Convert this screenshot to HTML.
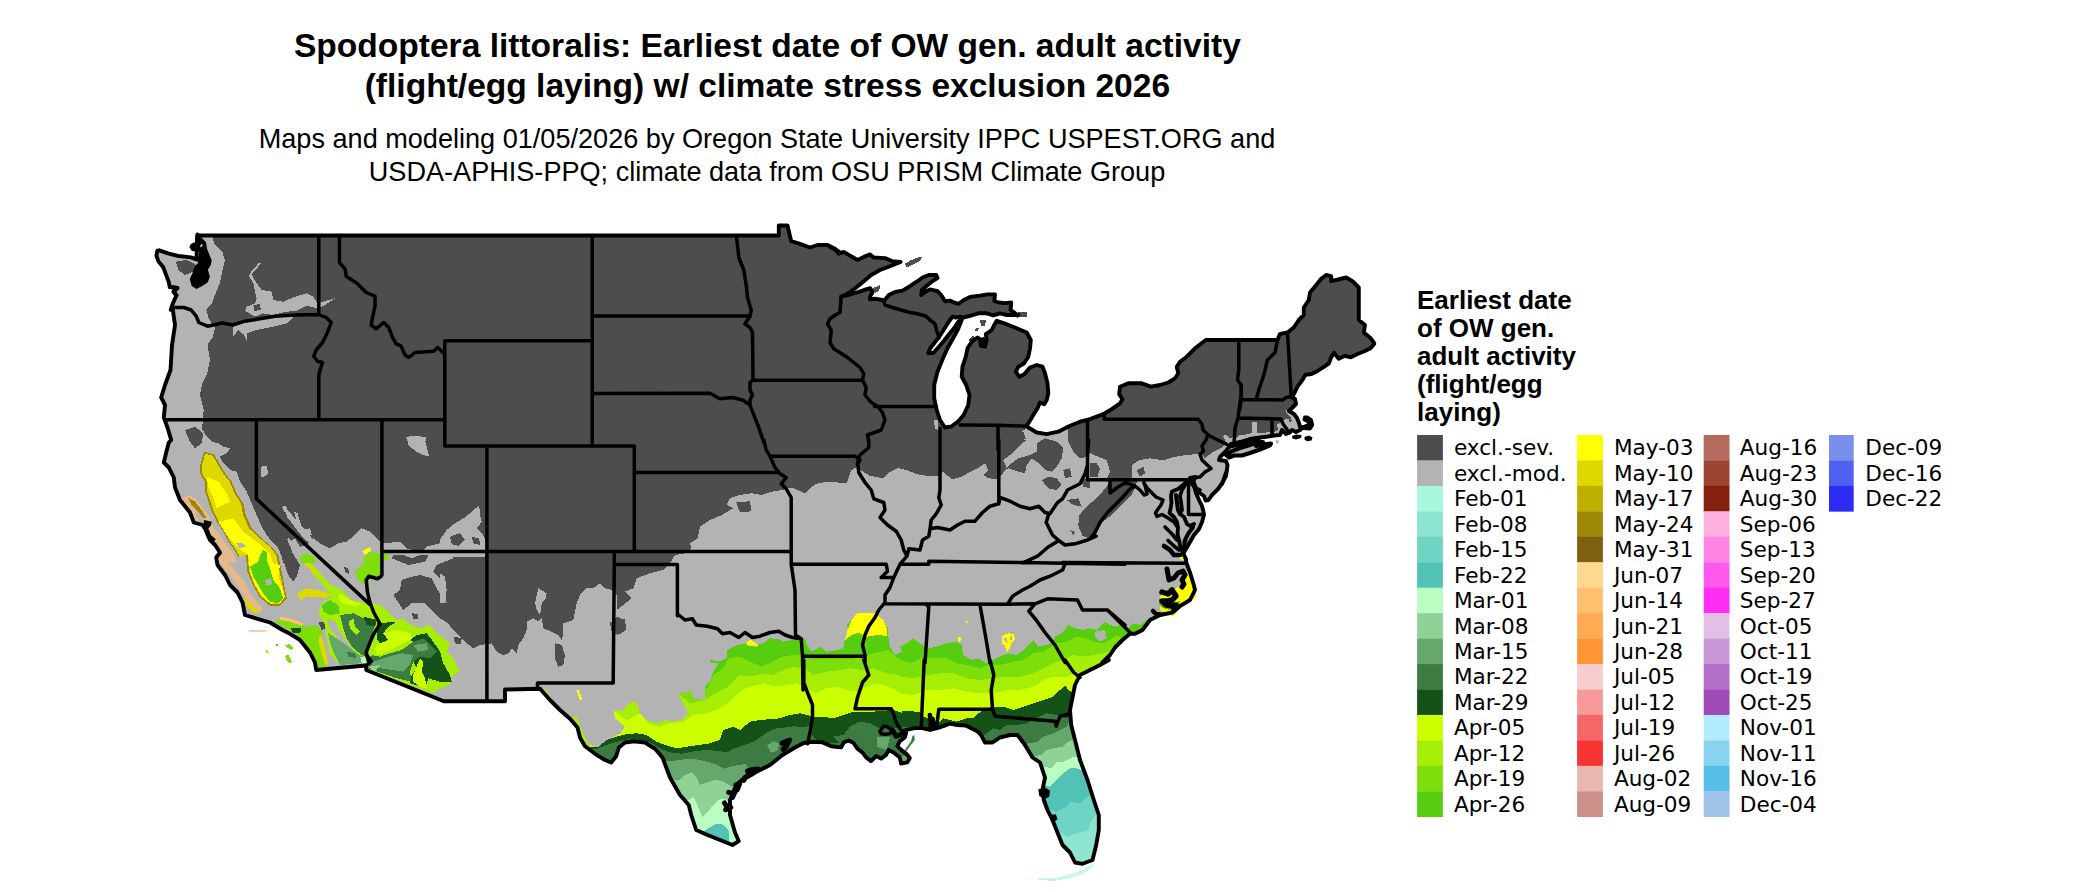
<!DOCTYPE html>
<html lang="en"><head><meta charset="utf-8"><title>Spodoptera littoralis: Earliest date of OW gen. adult activity</title>
<style>html,body{margin:0;padding:0;background:#fff}svg{display:block}</style></head>
<body>
<svg width="2100" height="892" viewBox="0 0 2100 892">
<rect width="2100" height="892" fill="#fff"/>
<defs><clipPath id="us"><path d="M198,235.5 778.8,235.5 778.8,225.5 787.5,225.5 791.2,241.2 800,243.8 810,247.5 817.5,245 827.5,245 835,248.8 840,252.5 830,246.9 835,248.8 838.8,253.8 843.8,251.9 850,255.6 857.5,260 863.8,256.9 870,254.4 873.8,257.5 885,258.1 892.5,261.2 900.6,261.9 890,266.2 880,270 871.2,275 863.8,281.2 856.2,287.5 847.5,293.8 841.2,296.5 848.8,294.8 858.8,291.9 867.5,288.8 870.2,288.1 872.5,292.5 870.2,296.2 869.8,299.4 875,298.8 882.5,300 883.8,301.2 888.8,295 895,291.9 902.5,290.6 910,286.2 917.5,281.2 922.5,277.5 928.8,275 936.2,275 937.5,278.1 932.5,281.2 926.2,286.2 921.9,290 921.2,295 926.2,291.2 930,289.4 937.5,291.2 941.2,295 945,301.2 950,300.6 953.8,302.5 958.8,303.8 963.8,300 970,296.9 980,295.6 987.5,294.4 995,294.4 994.4,301.2 998.8,302.5 1005,303.1 1011.2,302.5 1010.6,310 1015,313.1 1017.5,315.6 1018.3,314.7 1006.7,315 1000,313.3 993.3,315.3 986.7,313.3 978.3,313.3 970,315.8 963.3,317.5 960,316.7 955.8,317.5 952.5,316.7 950,320 946.7,325 942.5,331.7 938.7,337.5 934.7,342.5 930.3,348.3 928.3,353 933.3,353 938.7,347 943.8,341 949,334.3 954,328.3 958.7,321.3 961.7,320 958,329.2 952.5,339.2 947.5,348.3 943,358.3 937.5,371.7 934.2,385 934.2,398.3 936.7,410 940,420 945,427.5 951.7,426.3 958.3,421.3 963.7,415 968.3,405 969.5,395 966.2,385 961.7,376.7 962.5,366.7 965.8,356.7 967.5,348.3 971.7,341.7 977.5,337.5 980,339.2 980.8,345.8 985,346.7 986.7,340 985.8,334.2 991.7,330 994.2,325 996.7,320.8 1006.7,324.2 1016.7,328.3 1026.7,332.5 1030.8,340 1030,348.3 1028.3,356.7 1024.2,363.3 1018.3,366.7 1015.8,371.7 1019.2,376.7 1024.2,374.2 1030,367.5 1036.7,365 1042.5,366.7 1045,373.3 1047.5,383.3 1048.3,393.3 1046.7,400 1044.2,404.2 1040,402.5 1037.5,408.3 1033.3,415 1030,420.8 1026.7,425.8 1028.3,427.5 1036.7,432.5 1046.7,434.2 1058.3,431.7 1070,425.8 1080,421.7 1090,419.2 1103.3,414.2 1111.7,409.2 1120,403.3 1122.5,399.2 1119.2,394.2 1120,386.7 1128.3,383.3 1141.7,383.3 1150.8,386.7 1160,385 1168.3,382.5 1175,378.3 1178.3,373.3 1176.7,366.7 1180,361.7 1186.7,356.7 1195,348.3 1205.8,340 1277.5,340 1280,333.8 1287.5,332.5 1293.8,327.5 1298.8,320 1303.8,315 1303.8,307.5 1308.8,300 1310,292.5 1316.2,285 1321.2,278.8 1326.2,275 1331.2,276.2 1331.2,281.2 1336.2,280 1346.2,277.5 1352.5,281.2 1358.8,287.5 1358.8,320 1365,325 1363.8,332.5 1370,337.5 1373.8,342.5 1374.3,343.7 1370.5,348.2 1364.4,351.3 1356.9,354.3 1350.8,357.3 1344.8,355.8 1338.7,358.8 1334.2,352.8 1331.1,357.3 1328.9,363.4 1323.6,367.2 1317.5,370.9 1311.5,374 1305.4,374.7 1302.4,380 1297.8,386.1 1294.8,392.1 1292.5,396.7 1291,397 1295,399 1296,404 1292,408 1289,411 1294,414 1297,418 1299,423 1300,427 1304,428 1310,428.5 1312.2,425 1311,420 1307.5,417.5 1305,417.5 1304.5,419.5 1308.5,421.5 1309,425 1306,426 1302,428 1300,430 1296,432 1292,430 1289,433 1286,434 1282,430 1280,435 1274,435.5 1268,436.5 1260,437.5 1250,439 1240,442 1231,444 1230,446 1226,451 1220,457 1219,460 1226,461 1227.5,465 1226.5,473 1224,479 1222,484 1227,470 1226,476 1223,482 1218,489 1212,495 1208.5,500 1205.5,500.5 1204,496 1199,492.5 1195.5,487 1193.5,481 1195.5,477 1190,478 1192.5,480.5 1194,486 1196,493 1199,500 1202,506 1203.5,512 1204,514.5 1202,522 1199,529 1194,535 1190,542 1186,549 1184.5,551.5 1183.5,553.5 1186,559 1186.2,562.5 1190,572.5 1193.8,585 1195,590 1190,600 1180,606.2 1172.5,612.5 1160,615 1150,620 1142.5,630 1135,633.8 1130,633.8 1122.5,640 1115,647.5 1110,655 1102.5,662.5 1108.8,660 1100,665 1090,670 1080,675 1075,685 1072.5,697.5 1070,710 1071.2,725 1075,740 1080,760 1087.5,780 1093.8,800 1098.8,815 1098.8,830 1096.2,845 1092.5,860 1082.5,863.8 1075,862.5 1070,852.5 1062.5,845 1057.5,832.5 1052.5,820 1047.5,810 1043.8,800 1042.5,790 1045,777.5 1040,762.5 1032.5,757.5 1025,745 1017.5,735 1010,735 1000,737.5 992.5,742.5 985,742.5 980.9,734.9 977.2,731.2 972.2,728.7 965.9,725.6 957.2,725 949.7,723.7 944.7,725.6 937.2,728.1 929.8,729.9 922.3,728.1 914.8,728.1 908.5,729.3 902.3,731.2 906.1,733.1 904.8,737.4 899.8,741.2 897.3,746.2 901.1,749.9 906.1,753.6 909.8,758 907.3,762.4 901.1,763.6 899.8,757.4 893.6,752.4 888.6,749.9 886.1,754.9 881.1,758.6 876.1,756.1 871.1,761.1 866.1,757.4 862.4,752.4 857.4,748.7 853.6,743 848.7,740.5 843.7,742.4 841.2,747.4 831.2,746.2 822.5,742.4 812.5,741.8 803.7,743 795,747.5 782.5,755 770,765 755,772.5 745,777.5 736.2,785 730,800 730,815 735,832.5 738.8,841.2 732.5,845 720,840 707.5,835 696.2,830 691.2,815 688.8,805 680,795 670,777.5 662.5,757.5 655,748.8 645,742.5 633.8,741.2 625,742.5 618.8,747.5 616.2,756.2 611.2,762.5 605,760 595,753.8 585,746.2 580,737.5 577.5,727.5 570,718.8 560,710 550,700 540,688.8 505,689.5 505,701.2 486.2,701.2 443.8,701.2 366.2,670 366.2,665.5 316.2,670 315,662.5 310,652.5 300,640 290,633.8 282.5,630 270,622.5 257.5,618.8 245,615 242.5,602.5 237.5,592.5 230,585 225,575 217.5,565 216.2,557.5 220,552.5 215,545 210,540 207.5,532.5 202.5,525 193.8,522.5 190,512.5 180,500 175,487.5 173.8,477.5 168.8,467.5 163.8,462.5 166.2,452.5 168.8,442.5 171.2,440 167.5,427.5 163.8,417.5 165,405 161.2,397.5 165,385 170.5,370 172,345 175,325 172.5,307.5 170.7,309.8 172.6,304.1 174.6,299.4 176.5,295.5 173.6,291.7 177.4,287.9 169.8,287 168.8,282.2 166,274.6 163.1,266.9 158.3,261.2 156.4,255.5 157.4,250.7 159.3,250.3 168.8,253.6 178.4,256 190.8,257.4 196.5,259.3 197,237.4 197.4,234.5Z"/></clipPath></defs>
<path d="M198,235.5 778.8,235.5 778.8,225.5 787.5,225.5 791.2,241.2 800,243.8 810,247.5 817.5,245 827.5,245 835,248.8 840,252.5 830,246.9 835,248.8 838.8,253.8 843.8,251.9 850,255.6 857.5,260 863.8,256.9 870,254.4 873.8,257.5 885,258.1 892.5,261.2 900.6,261.9 890,266.2 880,270 871.2,275 863.8,281.2 856.2,287.5 847.5,293.8 841.2,296.5 848.8,294.8 858.8,291.9 867.5,288.8 870.2,288.1 872.5,292.5 870.2,296.2 869.8,299.4 875,298.8 882.5,300 883.8,301.2 888.8,295 895,291.9 902.5,290.6 910,286.2 917.5,281.2 922.5,277.5 928.8,275 936.2,275 937.5,278.1 932.5,281.2 926.2,286.2 921.9,290 921.2,295 926.2,291.2 930,289.4 937.5,291.2 941.2,295 945,301.2 950,300.6 953.8,302.5 958.8,303.8 963.8,300 970,296.9 980,295.6 987.5,294.4 995,294.4 994.4,301.2 998.8,302.5 1005,303.1 1011.2,302.5 1010.6,310 1015,313.1 1017.5,315.6 1018.3,314.7 1006.7,315 1000,313.3 993.3,315.3 986.7,313.3 978.3,313.3 970,315.8 963.3,317.5 960,316.7 955.8,317.5 952.5,316.7 950,320 946.7,325 942.5,331.7 938.7,337.5 934.7,342.5 930.3,348.3 928.3,353 933.3,353 938.7,347 943.8,341 949,334.3 954,328.3 958.7,321.3 961.7,320 958,329.2 952.5,339.2 947.5,348.3 943,358.3 937.5,371.7 934.2,385 934.2,398.3 936.7,410 940,420 945,427.5 951.7,426.3 958.3,421.3 963.7,415 968.3,405 969.5,395 966.2,385 961.7,376.7 962.5,366.7 965.8,356.7 967.5,348.3 971.7,341.7 977.5,337.5 980,339.2 980.8,345.8 985,346.7 986.7,340 985.8,334.2 991.7,330 994.2,325 996.7,320.8 1006.7,324.2 1016.7,328.3 1026.7,332.5 1030.8,340 1030,348.3 1028.3,356.7 1024.2,363.3 1018.3,366.7 1015.8,371.7 1019.2,376.7 1024.2,374.2 1030,367.5 1036.7,365 1042.5,366.7 1045,373.3 1047.5,383.3 1048.3,393.3 1046.7,400 1044.2,404.2 1040,402.5 1037.5,408.3 1033.3,415 1030,420.8 1026.7,425.8 1028.3,427.5 1036.7,432.5 1046.7,434.2 1058.3,431.7 1070,425.8 1080,421.7 1090,419.2 1103.3,414.2 1111.7,409.2 1120,403.3 1122.5,399.2 1119.2,394.2 1120,386.7 1128.3,383.3 1141.7,383.3 1150.8,386.7 1160,385 1168.3,382.5 1175,378.3 1178.3,373.3 1176.7,366.7 1180,361.7 1186.7,356.7 1195,348.3 1205.8,340 1277.5,340 1280,333.8 1287.5,332.5 1293.8,327.5 1298.8,320 1303.8,315 1303.8,307.5 1308.8,300 1310,292.5 1316.2,285 1321.2,278.8 1326.2,275 1331.2,276.2 1331.2,281.2 1336.2,280 1346.2,277.5 1352.5,281.2 1358.8,287.5 1358.8,320 1365,325 1363.8,332.5 1370,337.5 1373.8,342.5 1374.3,343.7 1370.5,348.2 1364.4,351.3 1356.9,354.3 1350.8,357.3 1344.8,355.8 1338.7,358.8 1334.2,352.8 1331.1,357.3 1328.9,363.4 1323.6,367.2 1317.5,370.9 1311.5,374 1305.4,374.7 1302.4,380 1297.8,386.1 1294.8,392.1 1292.5,396.7 1291,397 1295,399 1296,404 1292,408 1289,411 1294,414 1297,418 1299,423 1300,427 1304,428 1310,428.5 1312.2,425 1311,420 1307.5,417.5 1305,417.5 1304.5,419.5 1308.5,421.5 1309,425 1306,426 1302,428 1300,430 1296,432 1292,430 1289,433 1286,434 1282,430 1280,435 1274,435.5 1268,436.5 1260,437.5 1250,439 1240,442 1231,444 1230,446 1226,451 1220,457 1219,460 1226,461 1227.5,465 1226.5,473 1224,479 1222,484 1227,470 1226,476 1223,482 1218,489 1212,495 1208.5,500 1205.5,500.5 1204,496 1199,492.5 1195.5,487 1193.5,481 1195.5,477 1190,478 1192.5,480.5 1194,486 1196,493 1199,500 1202,506 1203.5,512 1204,514.5 1202,522 1199,529 1194,535 1190,542 1186,549 1184.5,551.5 1183.5,553.5 1186,559 1186.2,562.5 1190,572.5 1193.8,585 1195,590 1190,600 1180,606.2 1172.5,612.5 1160,615 1150,620 1142.5,630 1135,633.8 1130,633.8 1122.5,640 1115,647.5 1110,655 1102.5,662.5 1108.8,660 1100,665 1090,670 1080,675 1075,685 1072.5,697.5 1070,710 1071.2,725 1075,740 1080,760 1087.5,780 1093.8,800 1098.8,815 1098.8,830 1096.2,845 1092.5,860 1082.5,863.8 1075,862.5 1070,852.5 1062.5,845 1057.5,832.5 1052.5,820 1047.5,810 1043.8,800 1042.5,790 1045,777.5 1040,762.5 1032.5,757.5 1025,745 1017.5,735 1010,735 1000,737.5 992.5,742.5 985,742.5 980.9,734.9 977.2,731.2 972.2,728.7 965.9,725.6 957.2,725 949.7,723.7 944.7,725.6 937.2,728.1 929.8,729.9 922.3,728.1 914.8,728.1 908.5,729.3 902.3,731.2 906.1,733.1 904.8,737.4 899.8,741.2 897.3,746.2 901.1,749.9 906.1,753.6 909.8,758 907.3,762.4 901.1,763.6 899.8,757.4 893.6,752.4 888.6,749.9 886.1,754.9 881.1,758.6 876.1,756.1 871.1,761.1 866.1,757.4 862.4,752.4 857.4,748.7 853.6,743 848.7,740.5 843.7,742.4 841.2,747.4 831.2,746.2 822.5,742.4 812.5,741.8 803.7,743 795,747.5 782.5,755 770,765 755,772.5 745,777.5 736.2,785 730,800 730,815 735,832.5 738.8,841.2 732.5,845 720,840 707.5,835 696.2,830 691.2,815 688.8,805 680,795 670,777.5 662.5,757.5 655,748.8 645,742.5 633.8,741.2 625,742.5 618.8,747.5 616.2,756.2 611.2,762.5 605,760 595,753.8 585,746.2 580,737.5 577.5,727.5 570,718.8 560,710 550,700 540,688.8 505,689.5 505,701.2 486.2,701.2 443.8,701.2 366.2,670 366.2,665.5 316.2,670 315,662.5 310,652.5 300,640 290,633.8 282.5,630 270,622.5 257.5,618.8 245,615 242.5,602.5 237.5,592.5 230,585 225,575 217.5,565 216.2,557.5 220,552.5 215,545 210,540 207.5,532.5 202.5,525 193.8,522.5 190,512.5 180,500 175,487.5 173.8,477.5 168.8,467.5 163.8,462.5 166.2,452.5 168.8,442.5 171.2,440 167.5,427.5 163.8,417.5 165,405 161.2,397.5 165,385 170.5,370 172,345 175,325 172.5,307.5 170.7,309.8 172.6,304.1 174.6,299.4 176.5,295.5 173.6,291.7 177.4,287.9 169.8,287 168.8,282.2 166,274.6 163.1,266.9 158.3,261.2 156.4,255.5 157.4,250.7 159.3,250.3 168.8,253.6 178.4,256 190.8,257.4 196.5,259.3 197,237.4 197.4,234.5Z" fill="#4d4d4d"/>

<g clip-path="url(#us)" shape-rendering="crispEdges">
<path d="M100,200 100,232 212.5,230 212.5,237.5 215,245 222.5,252.5 225,260 222.5,270 220,282.5 215,295 212.5,302.5 206.2,310 208.8,318.8 215,327.5 212.5,337.5 207.5,345 210,360 207.5,372.5 202.5,382.5 200,395 203.8,410 202.5,420 203.3,420 201.7,428.3 206.7,436.7 211.7,441.7 218.3,443.3 223.3,446.7 230,448.3 226.7,453.3 220,456.7 223.3,463.3 230,470 236.7,471.7 240,481.7 246.7,491.7 251.7,503.3 256.7,515 261.7,526.7 266.7,535 271.7,541.7 278.3,548.3 281.7,556.7 283.3,563.3 285,565 288.3,575 293.3,581.7 296.7,576.7 300,565 296.7,555 290,546.7 286.7,538.3 290,541.7 295,538.3 300,546.7 306.7,545 313.3,538.3 320,543.3 330,548.3 338.3,543.3 346.7,541.7 355,535 361.7,528.3 370,531.7 380,541.7 384.2,543.3 400,541.7 406.7,548.3 413.3,550.3 453,550.7 453.3,558.3 445,561.7 436.7,565 433.3,571.7 440,578.3 445,588.3 446.7,603.3 443.3,598.3 436.7,588.3 431.7,578.3 420,575 411.7,576.7 401.7,580 400,590 393.3,595 403.3,610 411.7,603.3 425,603.3 433.3,611.7 440,618.3 448.3,623.3 451.7,628.3 458.3,635 466.7,643.3 473.3,648.3 480,645 486.7,644.2 491.7,643.3 496.7,651.7 503.3,655 508.3,653.3 511.7,648.3 516.7,653.3 518.3,645 523.3,638.3 526.7,630 526.7,621.7 533.3,618.3 538.3,621.7 541.7,618.3 543.3,628.3 551.7,631.7 558.3,635 561.7,640 563.3,633.3 563.3,623.3 573.3,620 575,611.7 576.7,603.3 580,595 586.7,588.3 593.3,588.3 600,583.3 605,588.3 612.5,590 616.7,595 616.7,610 623.3,605 631.7,598.3 625,591.7 633.3,588.3 636.7,578.3 650,573.3 663.3,570 670,563.3 675,555 685,553.3 691.7,548.3 690,543.3 697.5,538.3 700,526.7 710,520 721.7,515 733.3,508.3 726.7,505 730,498.3 740,495 751.7,493.3 761.7,495 771.7,491.7 781.7,490 791.2,487.5 793.2,488.2 805,493.2 815,484.2 826.8,481.8 846.8,483 850.8,470.8 856.8,466.8 860,470 870,475.8 883.2,478.2 890,471.8 898.2,468.2 906.8,470 916.8,474.2 926.8,475.8 938.2,475.8 943.2,471.8 951.8,479.2 961.8,476.8 970,471.8 978.2,468.2 985,463.2 988.2,470 983.2,475 988.2,478.2 998.2,479.2 1000,476.8 1006.8,468.2 1003.2,460 1010,455 1020,445 1026.8,440 1022.5,440 1018.3,433.3 1026.7,428.3 1036.7,430 1028.3,425 1068.3,425 1068.3,441.7 1073.3,451.7 1080,458.3 1088.3,456.7 1090,453.3 1106.7,460 1110,471.7 1106.7,479.2 1131.7,479.2 1131.7,465 1140,460 1150,458.3 1163.3,460.3 1173.3,457 1186.7,455 1201.7,453.7 1205,458.3 1213.3,451.7 1223.3,446.7 1226.7,443.3 1236.7,438.3 1273.3,433.3 1283.3,425 1290,421.7 1323.3,415 1400,415 1400,900 100,900Z" fill="#b3b3b3"/>
<path d="M249.2,276.7 251.7,275 256.7,283.3 261.7,290 271.7,291.7 273.3,300 283.3,301.7 295,296.7 306.7,293.3 313.3,296.7 317.5,303.3 323.3,301.7 335,298.3 325,305 317.5,308.3 306.7,305.8 296.7,310.8 286.7,311.7 273.3,315 263.3,313.3 255,316.7 245,310.8 246.7,306.7 255,303.3 256.7,298.3 255,291.7 253.3,283.3Z" fill="#b3b3b3"/>
<path d="M253.3,305 260,304.2 260.8,310 254.2,310.8Z" fill="#4d4d4d"/>
<path d="M259.2,262.5 260.8,263.7 252.5,273.3 250,277.5 248.7,276.3 251.3,271.7Z" fill="#b3b3b3"/>
<path d="M233.3,326.7 246.7,320 263.3,318.3 283.3,316.7 293.3,317.5 286.7,323.3 273.3,326.7 256.7,330 246.7,333.3 246.7,340 244.2,335 238.3,330 233.3,336.7Z" fill="#b3b3b3"/>
<path d="M175.8,261.7 186.7,260 195,264.2 193.3,271.7 185,275 178.3,270Z" fill="#4d4d4d"/>
<path d="M406.2,437.5 415,435.5 426.2,437.5 425,443 408.8,443Z" fill="#b3b3b3"/>
<path d="M406.7,436.7 416.7,435.8 425,440 429.2,456.7 423.3,455 415,450.8 408.3,445Z" fill="#b3b3b3"/>
<path d="M260.8,466.7 266.7,465.8 268.3,473.3 263.3,477.5 260.8,476.7Z" fill="#b3b3b3"/>
<path d="M281.7,506.7 285.8,505.8 288.3,511.7 285,512.5Z" fill="#b3b3b3"/>
<path d="M294.2,511.7 297.5,513.3 302.5,530 310,528.3 311.7,535 305,536.7 299.2,531.7Z" fill="#b3b3b3"/>
<path d="M423.3,550.3 426.7,546.7 440,543.3 441.7,536.7 448.3,534.2 455,523.3 463.3,518.3 471.7,513.3 479.2,505.8 480,515 481.7,521.7 476.7,528.3 483.3,535 485.8,541.7 485.8,550.3Z" fill="#b3b3b3"/>
<path d="M456.7,531.7 466.7,528.3 471.7,535 465,541.7 458.3,540Z" fill="#4d4d4d"/>
<path d="M440,540 446.7,530 455,523.3 463.3,525.8 465.8,516.7 477.5,506.7 480,520 472.5,533.3 481.7,537.5 483.7,550.8 440,550.8Z" fill="#b3b3b3"/>
<path d="M450,536.7 460,533.3 465,540 458.3,545.8 451.7,544.2Z" fill="#4d4d4d"/>
<path d="M471.7,536.7 479.2,538.3 480,545 473.3,543.3Z" fill="#4d4d4d"/>
<path d="M440,553 485.3,553 485.3,556.7 456.7,556.7 440,560Z" fill="#b3b3b3"/>
<path d="M440,573.3 445,576.7 446.7,590 445,603.3 440,603.3Z" fill="#b3b3b3"/>
<path d="M535,603.3 538.3,588.3 546.7,593.3 545.8,598.3 541.7,603.3 540,615 536.7,610Z" fill="#b3b3b3"/>
<path d="M283.8,507.5 290,512.5 300,525 310,535 315,545 305,540 295,527.5 287.5,517.5Z" fill="#b3b3b3"/>
<path d="M287.5,537.5 295,545 302.5,557.5 300,565 292.5,552.5Z" fill="#b3b3b3"/>
<path d="M185,430 195,426.7 203.3,433.3 201.7,443.3 195,448.3 190,441.7Z" fill="#4d4d4d"/>
<path d="M391.7,558.3 400,561.7 408.3,565 416.7,563.3 425,561.7 428.3,555 420,555 411.7,558.3 403.3,555 393.3,555Z" fill="#4d4d4d"/>
<path d="M411.7,613.3 417.5,614.2 418.3,619.2 413.3,619.2Z" fill="#4d4d4d"/>
<path d="M555,643.3 561.7,645 565,655 563.3,665 558.3,666.7 555,658.3Z" fill="#4d4d4d"/>
<path d="M610.8,625 616.7,616.7 625,620 625.8,628.3 620,634.2 613.3,632.5Z" fill="#4d4d4d"/>
<path d="M343.3,566.7 348.3,568.3 349.2,574.2 345.8,572.5Z" fill="#4d4d4d"/>
<path d="M318.3,621.7 325,621.7 326.7,628.3 321.7,630Z" fill="#4d4d4d"/>
<path d="M413.3,613.3 418.3,614.2 417.5,619.2 413.3,618.3Z" fill="#4d4d4d"/>
<path d="M453.3,636.7 461.7,638.3 460.8,644.2 455,643.3Z" fill="#4d4d4d"/>
<path d="M460.8,475 466.7,470 475.8,470.8 475,480 468.3,484.2 462.5,481.7Z" fill="#4d4d4d"/>
<path d="M736.2,502.5 750,501.2 751.2,511.2 740,512.5Z" fill="#4d4d4d"/>
<path d="M610,622.5 625,618.8 626.2,630 617.5,635 611.2,631.2Z" fill="#4d4d4d"/>
<path d="M1000,426.7 1023.3,431.7 1025.8,438.3 1015,448.3 1005,458.3 1000,458.7Z" fill="#4d4d4d"/>
<path d="M1036.7,443.3 1045,438.3 1056.7,441.7 1063.3,448.3 1061.7,458.3 1056.7,466.7 1051.7,471.7 1045,470 1036.7,461.7 1031.7,458.3 1026.7,465 1025,473.3 1018.3,471.7 1008.3,468.3 1005,470 1011.7,463.3 1018.3,458.3 1030,455 1036.7,451.7Z" fill="#4d4d4d"/>
<path d="M1041.7,480 1048.3,476.7 1056.7,478.3 1061.7,485 1056.7,490 1048.3,488.3Z" fill="#4d4d4d"/>
<path d="M1063.3,470 1070,468.3 1071.7,476.7 1065,478.3Z" fill="#4d4d4d"/>
<path d="M1090,463.3 1096.7,463.3 1100,468.3 1097.5,476.7 1090,477.5Z" fill="#4d4d4d"/>
<path d="M1080.8,479.2 1090,479.2 1090,488.3 1083.3,486.7Z" fill="#4d4d4d"/>
<path d="M1110.8,480 1137.5,480 1135,488.3 1131.7,495 1125,501.7 1118.3,508.3 1111.7,515 1101.7,522.5 1095,532.5 1089.2,538.3 1082.5,535.8 1078.3,525.8 1079.2,515 1086.7,506.7 1094.2,500 1101.7,492.5 1106.7,486.7Z" fill="#4d4d4d"/>
<path d="M1066.7,500 1078.3,498.3 1081.7,506.7 1073.3,505Z" fill="#4d4d4d"/>
<path d="M1070,530 1075,531.7 1073.3,535Z" fill="#4d4d4d"/>
<path d="M1136.7,470 1143.3,466.7 1145,473.3 1140,476.7Z" fill="#4d4d4d"/>
<path d="M1251.7,421.7 1256.7,421.7 1257.5,435 1251.7,435.8Z" fill="#b3b3b3"/>
<path d="M1276.7,425 1283.3,420 1288.3,418.3 1290,425 1288.3,431.7 1280,433.3Z" fill="#b3b3b3"/>
<path d="M1286.5,410 1289,411.5 1294,414.5 1297,418.5 1299,423.5 1296,425 1293,423 1291,418.5 1289.5,415.5 1286,413Z" fill="#b3b3b3"/>
<path d="M1300,427 1320,427 1320,443 1294,443 1294,434 1297,431Z" fill="#b3b3b3"/>
<path d="M1283,428 1287.5,425 1291,426 1290,430 1286,433.5 1283.5,432Z" fill="#b3b3b3"/>
<path d="M1236,438 1240,435 1246,434.5 1252,433 1260,433.5 1268,432.2 1272,433 1272,435.5 1260,437.5 1250,439 1240,442 1234,443Z" fill="#b3b3b3"/>
<path d="M1223,436 1226,434.5 1230,438 1233,437 1234,443 1230,445 1226,442Z" fill="#b3b3b3"/>
<path d="M933.8,420 937.5,420 938.8,430 935,428.8Z" fill="#b3b3b3"/>
<path d="M1330,363.8 1336.2,365 1335,372.5 1331.2,370Z" fill="#b3b3b3"/>
<path d="M590,744.2 596.7,748.3 605,743.3 613.3,736.7 620,733.3 625,726.7 615,718.3 613.3,710.8 623.3,710 628.3,703.3 636.7,701.7 640,713.3 646.7,720 656.7,723.3 666.7,720 673.3,721.7 681.7,720 688.3,713.3 683.3,703.3 678.3,693.3 685,693.3 690,690 693.3,698.3 705,700 705,686.7 710,681.7 713.3,671.7 718.3,663.3 710,663.3 710,660 720,661.7 726.7,658.3 726.7,650 736.7,645 746.7,643.3 750,645.8 763.3,643.3 770,638.3 778.3,639.2 783.3,641.7 791.7,640 796.7,639.2 805,638.3 806.7,645 811.7,651.7 820,646.7 826.7,651.7 836.7,650 843.3,648.3 845,638.3 850,633.3 846.7,625 851.7,620 883.3,620 888.3,630 888.3,636.7 890,646.7 895,655 901.7,651.7 900,646.7 906.7,643.3 913.3,638.3 920,643.3 926.7,648.3 936.7,646.7 946.7,643.3 955,641.7 961.7,645 963.3,655 971.7,660 978.3,658.3 986.7,663.3 993.3,660 1000,656.7 1008.3,653.3 1016.7,655 1023.3,650 1030,643.3 1033.3,640 1038.3,646.7 1046.7,645 1053.3,641.7 1055,636.7 1061.7,633.3 1068.3,625 1075,628.3 1083.3,630 1090,628.3 1096.7,630 1105,621.7 1110,625 1116.7,626.7 1123.3,623.3 1128.3,628.3 1133.3,623.3 1140,625 1146.7,620 1160,613.3 1233.3,613.3 1300,700 1300,900 560,900Z" fill="#56ce0f"/>
<path d="M1095,631.7 1105,630 1106.7,638.3 1100,641.7 1095,636.7Z" fill="#b3b3b3"/>
<path d="M845,640 847.5,630 851.7,620 856.7,613.3 873.3,612.5 883.3,620 887.5,630 886.7,635.8 876.7,635 866.7,636.7 858.3,632.5 851.7,635Z" fill="#ffff00"/>
<path d="M745.8,643.3 750,639.2 758.3,645 756.7,646.7 748.3,645.8Z" fill="#ffff00"/>
<path d="M1002.5,635.8 1008.3,633.3 1014.2,634.2 1015,640 1010.8,644.2 1010,648.3 1006.7,652.5 1005,645.8 1001.7,643.3Z" fill="#ffff00"/>
<path d="M1004.2,638.3 1006.7,637.5 1007.5,642.5 1005,642Z" fill="#b3b3b3"/>
<path d="M1010,636.7 1012,636.3 1011.7,640 1009.7,640.3Z" fill="#b3b3b3"/>
<path d="M958.3,636.7 961.7,638.3 960,642.5 957.5,640.8Z" fill="#ffff00"/>
<path d="M965,620.8 968.3,620.8 966.7,623.7Z" fill="#ffff00"/>
<path d="M590,744.2 596.7,748.3 605,743.3 613.3,736.7 620,733.3 625,726.7 615,718.3 613.3,710.8 623.3,710 628.3,703.3 636.7,701.7 640,713.3 646.7,720 656.7,723.3 666.7,720 673.3,721.7 681.7,720 688.3,713.3 683.3,703.3 678.3,693.3 685,693.3 690,690 693.3,698.3 705,700 705,686.7 706.7,690 713.3,675 723.3,668.3 728.3,658.3 740,656.7 750,661.7 760,666.7 770,663.3 781.7,656.7 793.3,655 802.5,655.8 806.7,658.3 823.3,659.2 840,659.2 856.7,658.3 863.3,657.5 873.3,653.3 888.3,650 898.3,658.3 900,660 910,663.3 920,658.3 933.3,658.3 946.7,658.3 956.7,663.3 966.7,665 980,668.3 990,665 1000,665 1013.3,661.7 1023.3,660 1033.3,653.3 1043.3,651.7 1056.7,643.3 1066.7,641.7 1076.7,636.7 1086.7,638.3 1093.3,641.7 1103.3,643.3 1110,640 1116.7,635 1121.7,638.3 1233.3,638.3 1300,700 1300,900 560,900Z" fill="#7ede0a"/>
<path d="M590,744.2 596.7,748.3 605,743.3 613.3,736.7 620,733.3 625,726.7 615,718.3 613.3,710.8 623.3,710 628.3,703.3 636.7,701.7 640,713.3 646.7,720 656.7,723.3 666.7,720 673.3,721.7 681.7,720 688.3,713.3 683.3,703.3 678.3,693.3 690,703.3 705,700 715,693.3 728.3,686.7 740,675 750,676.7 763.3,673.3 773.3,675 783.3,670 793.3,666.7 803.3,668.3 813.3,675 826.7,671.7 840,670 850,668.3 863.3,670 873.3,668.3 886.7,673.3 898.3,675 900,676.7 913.3,678.3 926.7,675 940,673.3 953.3,673.3 966.7,678.3 980,680 993.3,678.3 1006.7,676.7 1020,676.7 1033.3,673.3 1043.3,668.3 1053.3,663.3 1063.3,660 1073.3,655 1083.3,656.7 1093.3,655 1103.3,653.3 1113.3,650 1233.3,650 1300,700 1300,900 560,900Z" fill="#a6ee05"/>
<path d="M590,744.2 596.7,748.3 605,743.3 613.3,736.7 620,733.3 625,726.7 615,718.3 613.3,710.8 626.7,720 640,713.3 648.3,723.3 660,726.7 670,723.3 683.3,721.7 693.3,715 706.7,713.3 716.7,710 728.3,703.3 740,691.7 750,686.7 763.3,683.3 773.3,686.7 786.7,685 796.7,683.3 806.7,688.3 816.7,693.3 826.7,688.3 836.7,686.7 846.7,690 856.7,691.7 866.7,686.7 876.7,683.3 888.3,686.7 898.3,691.7 900,693.3 913.3,695 926.7,690 940,690 953.3,688.3 966.7,691.7 980,693.3 993.3,693.3 1006.7,690 1020,690 1033.3,686.7 1043.3,680 1053.3,676.7 1066.7,676.7 1076.7,673.3 1086.7,673.3 1233.3,673.3 1300,700 1300,900 560,900Z" fill="#ccff00"/>
<path d="M573.3,746.7 590,746.7 598.3,746.7 606.7,740 616.7,736.7 626.7,734.2 636.7,733.3 646.7,735 656.7,741.7 665,745 676.7,748.3 686.7,746.7 698.3,745 710,743.3 720,740 723.3,730 733.3,726.7 740,730 750,721.7 760,720 770,719.2 780,718.3 790,715 800,713.3 806.7,715 813.3,716.7 823.3,716.7 833.3,718.3 843.3,715 853.3,711.7 863.3,712.5 873.3,711.7 883.3,710.8 893.3,710 903.3,713.3 900,711.7 910,710.8 920,712.5 923.3,716.7 933.3,720 940,721.7 943.3,718.3 950,720 956.7,721.7 966.7,718.3 973.3,718.3 978.3,713.3 986.7,708.3 993.3,706.7 1003.3,706.7 1013.3,710 1023.3,706.7 1033.3,703.3 1043.3,700 1053.3,696.7 1060,690 1065,685 1068.3,690 1073.3,693.3 1075,695 1233.3,695 1300,700 1300,900 560,900Z" fill="#145217"/>
<path d="M565,752.4 597.5,748.7 606.2,745 618.7,741.2 631.2,738.7 643.6,740 652.4,743.7 659.9,748.7 669.9,752.4 682.3,753.7 694.8,751.2 707.3,749.9 719.8,751.2 727.2,752.4 733.5,748.7 741,746.2 748.5,743.7 754.7,741.2 759.7,737.5 767.2,732.5 774.7,728.7 784.6,727.5 794.6,726.2 804.6,727.5 809.6,725 811.7,735 823.3,735 833.3,736.7 843.3,735 850,726.7 860,721.7 870,723.3 880,728.3 890,726.7 898.3,728.3 906.7,726.7 916.7,726.7 923.3,733.3 933.3,733.3 981.7,738.3 986.7,733.3 993.3,728.3 1000,730 1006.7,725 1016.7,725 1026.7,723.3 1036.7,718.3 1046.7,713.3 1056.7,715 1066.7,718.3 1133.3,718.3 1300,700 1300,900 560,900Z" fill="#3c7c42"/>
<path d="M811.7,735 823.3,735 833.3,736.7 840,743.3 828.3,742.5 816.7,740Z" fill="#145217"/>
<path d="M639.9,769.9 664.9,761.2 672.3,761.2 679.8,759.9 689.8,758.7 699.8,759.9 709.8,762.4 717.3,764.9 724.7,768.7 732.2,766.2 739.7,764.9 746,763.7 748.5,769.9 777.1,772.4 950,750 1030,743.3 1038.3,741.7 1043.3,736.7 1053.3,733.3 1060,730 1066.7,726.7 1068.3,723.3 1133.3,723.3 1300,700 1300,900 560,900Z" fill="#65a76d"/>
<path d="M876.7,736.7 890,736.7 886.7,750 876.7,746.7Z" fill="#65a76d"/>
<path d="M767.2,745 773.4,741.2 779.6,743.7 777.1,751.2 770.9,752.4Z" fill="#65a76d"/>
<path d="M652.4,784.9 672.3,779.9 679.8,779.9 684.8,774.9 692.3,772.4 697.3,778.6 699.8,784.9 707.3,782.4 714.8,779.9 722.3,781.1 727.2,783.6 732.2,787.4 764.7,789.9 950,766.7 1041.7,755 1046.7,750 1053.3,748.3 1063.3,746.7 1068.3,741.7 1071.7,740 1133.3,740 1300,700 1300,900 560,900Z" fill="#8ed298"/>
<path d="M664.9,804.8 688.6,799.9 693.6,797.4 697.3,804.8 699.8,811.1 702.3,817.3 707.3,812.3 713.5,804.8 718.5,799.9 724.7,798.6 729.7,802.3 764.7,804.8 950,783.3 1045,766.7 1051.7,768.3 1056.7,761.7 1063.3,761.7 1070,758.3 1075,756.7 1133.3,756.7 1300,700 1300,900 560,900Z" fill="#b9fdc2"/>
<path d="M702.3,832.3 712.3,826.1 717.3,823.6 723.5,824.8 727.2,828.5 728.5,831 728.5,844.8 764.7,844.8 950,800 1043.3,785 1050,786.7 1056.7,780 1063.3,773.3 1070,768.3 1076.7,768.3 1080.8,770 1133.3,770 1300,700 1300,900 560,900Z" fill="#52c2b6"/>
<path d="M1016.7,816.7 1048.3,808.3 1056.7,811.7 1066.7,806.7 1070,801.7 1080,803.3 1085,798.3 1090,795 1133.3,795 1300,700 1300,900 560,900Z" fill="#70d4c4"/>
<path d="M1033.3,833.3 1060,831.7 1066.7,836.7 1076.7,833.3 1088.3,830 1091.7,820 1096.7,813.3 1133.3,813.3 1300,700 1300,900 560,900Z" fill="#8de4d0"/>
<path d="M1160,596.7 1173.3,590 1183.3,583.3 1190,570 1198.3,570 1195.8,596.7 1183.3,601.7 1173.3,615 1160,610Z" fill="#ffff00"/>
<path d="M1158.3,600 1166.7,598.3 1180,605 1173.3,609.2 1163.3,606.7Z" fill="#56ce0f"/>
<path d="M1178,546 1182,540 1185,542 1184,550 1187,559 1183,559 1180,552Z" fill="#9f8808"/>
<path d="M1183.8,553.8 1187.5,553.8 1191.2,572.5 1187.5,572.5Z" fill="#ffff00"/>
<path d="M204.2,451.7 214.2,454.2 220,465 225,473.3 231.7,481.7 236.7,493.3 243.3,503.3 245.8,515 251.7,528.3 261.7,538.3 271.7,546.7 278.3,555 280,563.3 286.7,598.3 280,605.8 270,605.8 260,597.5 253.3,585.8 247.5,571.7 245.8,555 238.3,556.7 233.3,548.3 228.3,541.7 223.3,531.7 216.7,521.7 211.7,511.7 208.3,501.7 205,491.7 205,481.7 200,473.3 200.3,465Z" fill="#9f8808"/>
<path d="M205.3,453.7 213,455.8 218,465 223,473.3 229.7,481.7 234.7,493.3 241,503.3 243,515 249.2,528.3 260,538.3 270,546.7 276.3,555 278,563.3 285,597.5 279.3,604.2 270.8,604.2 261.3,596.7 254.7,585.3 249.2,571.7 247.5,555 240,556.7 235,548.3 230,541.7 225.3,531.7 218.7,521.7 213.7,511.7 210.3,501.7 207,491.7 207,481.7 202,473.3 202,465Z" fill="#dfd800"/>
<path d="M206.7,476.7 218.3,481.7 226.7,493.3 230,501.7 223.3,505 216.7,508.3 213.3,498.3 208.3,486.7Z" fill="#ffff00"/>
<path d="M218.3,521.7 233.3,518.3 243.3,531.7 256.7,541.7 270,553.3 273.3,563.3 280,565 278.3,576.7 282.5,588.3 285,596.7 280,603.3 270.8,603.3 261.7,595.8 255,585 250,571.7 248.3,555 238.3,548.3 226.7,535Z" fill="#ffff00"/>
<path d="M250,566.7 258.3,561.7 260,555 263.3,550 266.7,551.7 266.7,560 270,568.3 273.3,580 280,588.3 283.3,598.3 278.3,603.3 270,601.7 263.3,593.3 258.3,585 253.3,576.7Z" fill="#56ce0f"/>
<path d="M265,580 270.8,578.3 272.5,584.2 266.7,585.8Z" fill="#b3b3b3"/>
<path d="M235.8,543.3 241.7,542.5 246.7,546.7 240,548.3Z" fill="#b3b3b3"/>
<path d="M180.8,498.3 190,495 196.7,500 203.3,508.3 210,518.3 213.3,528.3 220,535 226.7,545 233.3,553.3 236.7,563.3 218.3,563.3 213.3,548.3 206.7,541.7 203.3,531.7 196.7,521.7 190,511.7Z" fill="#e6b98a"/>
<path d="M195,508.3 201.7,515 206.7,525 211.7,535 220,546.7 223.3,555 220,556.7 213.3,545 206.7,535 201.7,525 196.7,516.7Z" fill="#b3b3b3"/>
<path d="M188.3,498.3 195,501.7 201.7,510 206.7,518.3 203.3,518.3 198.3,511.7 191.7,505Z" fill="#9f8808"/>
<path d="M218.3,558.3 230,565 243.3,580 250,593.3 256.7,601.7 263.3,610 258.3,611.7 250,605 243.3,595 235,581.7 225,570Z" fill="#e6b98a"/>
<path d="M243.3,596.7 251.7,605 260,612.5 253.3,613.3 246.7,606.7Z" fill="#dfd800"/>
<path d="M306.7,565 313.3,565 323.3,576.7 333.3,586.7 340,588.3 351.7,600 368.3,603.3 373.3,611.7 380,621.7 376.7,628.3 371.7,638.3 368.3,648.3 368.3,658.3 363.3,661.7 340,664.2 330,655 326.7,638.3 325,625 318.3,613.3 321.7,603.3 330,598.3 328.3,591.7 321.7,583.3 313.3,575Z" fill="#a6ee05"/>
<path d="M300,556.7 305,555.8 311.7,565 318.3,573.3 315.8,575.8 308.3,568.3 303.3,563.3Z" fill="#dfd800"/>
<path d="M296.7,593.3 306.7,588.3 318.3,590 330,593.3 326.7,598.3 316.7,596.7 306.7,596.7 300,600Z" fill="#dfd800"/>
<path d="M326.7,618.3 335,621.7 340,631.7 346.7,641.7 353.3,650 346.7,648.3 338.3,638.3 330,630Z" fill="#b3b3b3"/>
<path d="M340,593.3 350,600 361.7,604.2 356.7,606.7 346.7,605 338.3,600Z" fill="#ccff00"/>
<path d="M321.7,605 330,600 338.3,605 340,613.3 330,615 323.3,611.7Z" fill="#56ce0f"/>
<path d="M340,615 353.3,613.3 363.3,618.3 376.7,621.7 371.7,635 368.3,648.3 368.3,658.3 361.7,655 353.3,648.3 346.7,638.3 343.3,628.3Z" fill="#3c7c42"/>
<path d="M363.3,616.7 376.7,620 375,626.7 366.7,625Z" fill="#145217"/>
<path d="M348.3,621.7 353.3,618.3 355,626.7 360,631.7 356.7,635 350,628.3Z" fill="#a6ee05"/>
<path d="M328.3,633.3 336.7,638.3 346.7,645 356.7,653.3 370,660 370,662.5 340,665 335,655 330,643.3Z" fill="#65a76d"/>
<path d="M346.7,651.7 355,653.3 356.7,658.3 348.3,656.7Z" fill="#3c7c42"/>
<path d="M360,656.7 370,658.3 370,662.5 361.7,662.5Z" fill="#b9fdc2"/>
<path d="M273.3,621.7 286.7,618.3 296.7,621.7 306.7,626.7 316.7,625 323.3,633.3 320,641.7 325,648.3 326.7,658.3 328.3,665 318.3,668.3 313.3,661.7 311.7,653.3 303.3,641.7 296.7,635 286.7,628.3Z" fill="#7ede0a"/>
<path d="M290,627.5 301.7,627.5 300,633.3 293.3,633.3Z" fill="#145217"/>
<path d="M280,616.7 293.3,619.2 303.3,623.3 301.7,625.8 290,621.7 280,620Z" fill="#ffc070"/>
<path d="M320,633.3 323.3,641.7 326.7,655 328.3,665 325,665 321.7,653.3 318.3,641.7Z" fill="#dfd800"/>
<path d="M355,571.7 361.7,565 370,558.3 376.7,555 382.5,555 382.5,571.7 376.7,576.7 370,575 368.3,585 361.7,583.3 356.7,578.3Z" fill="#7ede0a"/>
<path d="M363.3,558.3 370,551.7 376.7,553.3 379.2,550.3 379.2,563.3 365,563.3Z" fill="#7ede0a"/>
<path d="M361.7,551.7 370,546.7 371.7,550 365,555Z" fill="#ffff00"/>
<path d="M300,556.7 306.7,553.3 313.3,556.7 316.7,563.3 301.7,563.3Z" fill="#7ede0a"/>
<path d="M384.2,553.3 390,555 386.7,560 384.2,560Z" fill="#7ede0a"/>
<path d="M373.3,603.3 380,605 388.3,611.7 396.7,620 403.3,618.3 410,625 420,628.3 430,625 436.7,633.3 443.3,638.3 450,643.3 446.7,651.7 453.3,658.3 460,671.7 453.3,675 450,685 440,688.3 433.3,693.3 368.3,670 371.7,661.7 368.3,648.3 371.7,638.3 376.7,628.3 380,621.7 373.3,611.7Z" fill="#a6ee05"/>
<path d="M383.3,633.3 396.7,630 410,633.3 413.3,638.3 403.3,643.3 393.3,648.3 383.3,653.3 376.7,655 375,648.3 380,641.7Z" fill="#ccff00"/>
<path d="M376.7,623.3 396.7,621.7 388.3,626.7 383.3,633.3 388.3,640 380,643.3 376.7,638.3Z" fill="#145217"/>
<path d="M371.7,655 380,656.7 390,653.3 401.7,650 413.3,641.7 423.3,638.3 430,645 436.7,651.7 430,658.3 420,656.7 413.3,661.7 410,671.7 411.7,681.7 396.7,678.3 368.3,668.3Z" fill="#3c7c42"/>
<path d="M410,640 416.7,635 426.7,633.3 433.3,641.7 440,651.7 443.3,663.3 450,675 451.7,681.7 440,681.7 428.3,678.3 425,688.3 410,683.3 411.7,675 416.7,668.3 413.3,661.7 420,656.7 430,658.3 436.7,651.7 430,645 423.3,638.3 413.3,641.7Z" fill="#145217"/>
<path d="M373.3,661.7 388.3,656.7 401.7,653.3 413.3,655 410,665 403.3,671.7 393.3,670 380,668.3 370,668.3Z" fill="#65a76d"/>
<path d="M413.3,645 426.7,643.3 428.3,650 418.3,651.7Z" fill="#65a76d"/>
<path d="M368.3,666.7 380,665 375,671.7Z" fill="#8ed298"/>
<path d="M413.3,675 420,658.3 423.3,661.7 421.7,671.7 425,678.3 426.7,688.3 420,686.7 413.3,681.7Z" fill="#ccff00"/>
<path d="M542.5,690 546.2,690 552.5,700 550,701.2Z" fill="#a6ee05"/>
<path d="M576.2,690 578.8,690 582.5,700 580,700Z" fill="#ffff00"/>
<path d="M572.5,717.5 576.2,716.2 583.8,735 590,747.5 587.5,750 580,737.5Z" fill="#a6ee05"/>
</g>
<path d="M1176,599 1180,596 1186,592 1190,588 1193,584 1196,585 1196,598 1190,600 1184,603 1180,606 1176,614 1172,617 1170,614 1174,608Z" fill="#ffff00" shape-rendering="crispEdges"/><path d="M1193,584 1196,585 1196,590 1193.5,589Z" fill="#dfd800" shape-rendering="crispEdges"/><path d="M1159,599 1164,598 1170,604 1180,601 1181,606 1170,610 1162,608 1159,604Z" fill="#56ce0f" shape-rendering="crispEdges"/><path d="M1161,596 1168,599 1172,596 1178,592 1180,594 1174,600 1168,604 1162,600Z" fill="#ffff00" shape-rendering="crispEdges"/><path d="M1179,543 1188,540 1190,542 1185,551 1180,549Z" fill="#9f8808" shape-rendering="crispEdges"/><path d="M1179,556 1183,557 1182.5,560.5 1180,559Z" fill="#ffff00" shape-rendering="crispEdges"/><path d="M248.3,630.3 256.7,629.5 266.7,630.5 265.8,631.8 255.8,632.3 248.7,631.7Z" fill="#f4cdb4" shape-rendering="crispEdges"/><path d="M265.3,649.7 268.3,650 268.7,653.3 265.8,653Z" fill="#dfd800" shape-rendering="crispEdges"/><path d="M275.8,644.2 278,644.2 278,646.3 275.8,646.3Z" fill="#56ce0f" shape-rendering="crispEdges"/><path d="M285,645 289.2,644.2 293.3,647.5 291.7,649.7 286.7,647.5Z" fill="#7ede0a" shape-rendering="crispEdges"/><path d="M285,655.8 288.3,655 292,661.7 290,663.7 286.7,660Z" fill="#7ede0a" shape-rendering="crispEdges"/><path d="M1037.5,877.8 1052.5,878.5 1067.5,875.2 1082.5,870.2 1092.5,864 1093.8,866.5 1083.8,873.5 1068.8,878.5 1052.5,881 1037.5,879.5Z" fill="#c4f8ea" shape-rendering="crispEdges"/><path d="M905,263.8 910,260.6 917.5,257.5 921.9,256.9 921.2,259.4 917.5,262.5 911.2,265.6 906.9,267.5Z" fill="#4d4d4d" shape-rendering="crispEdges"/><path d="M872.5,288.1 877.5,286.2 880,285 880.6,288.1 878.1,291.2 875.6,293.1 873.8,291.2Z" fill="#4d4d4d" shape-rendering="crispEdges"/><path d="M1017.5,311.9 1026.9,311.9 1027.2,316.9 1018.8,316.9Z" fill="#4d4d4d" shape-rendering="crispEdges"/><path d="M980,320 986.2,319.8 985,326.2 981.2,326.2Z" fill="#4d4d4d" shape-rendering="crispEdges"/><path d="M975,328.8 978.8,327.5 978.1,331.2 975.6,331.2Z" fill="#4d4d4d" shape-rendering="crispEdges"/><path d="M969.2,339.2 973.3,335 974.2,339.2 970,342.5Z" fill="#4d4d4d" shape-rendering="crispEdges"/>
<g fill="none" stroke="#000" stroke-width="3.5" stroke-linejoin="round" stroke-linecap="round">
<path d="M198,235.5 778.8,235.5 778.8,225.5 787.5,225.5 791.2,241.2 800,243.8 810,247.5 817.5,245 827.5,245 835,248.8 840,252.5 830,246.9 835,248.8 838.8,253.8 843.8,251.9 850,255.6 857.5,260 863.8,256.9 870,254.4 873.8,257.5 885,258.1 892.5,261.2 900.6,261.9 890,266.2 880,270 871.2,275 863.8,281.2 856.2,287.5 847.5,293.8 841.2,296.5 848.8,294.8 858.8,291.9 867.5,288.8 870.2,288.1 872.5,292.5 870.2,296.2 869.8,299.4 875,298.8 882.5,300 883.8,301.2 888.8,295 895,291.9 902.5,290.6 910,286.2 917.5,281.2 922.5,277.5 928.8,275 936.2,275 937.5,278.1 932.5,281.2 926.2,286.2 921.9,290 921.2,295 926.2,291.2 930,289.4 937.5,291.2 941.2,295 945,301.2 950,300.6 953.8,302.5 958.8,303.8 963.8,300 970,296.9 980,295.6 987.5,294.4 995,294.4 994.4,301.2 998.8,302.5 1005,303.1 1011.2,302.5 1010.6,310 1015,313.1 1017.5,315.6 1018.3,314.7 1006.7,315 1000,313.3 993.3,315.3 986.7,313.3 978.3,313.3 970,315.8 963.3,317.5 960,316.7 955.8,317.5 952.5,316.7 950,320 946.7,325 942.5,331.7 938.7,337.5 934.7,342.5 930.3,348.3 928.3,353 933.3,353 938.7,347 943.8,341 949,334.3 954,328.3 958.7,321.3 961.7,320 958,329.2 952.5,339.2 947.5,348.3 943,358.3 937.5,371.7 934.2,385 934.2,398.3 936.7,410 940,420 945,427.5 951.7,426.3 958.3,421.3 963.7,415 968.3,405 969.5,395 966.2,385 961.7,376.7 962.5,366.7 965.8,356.7 967.5,348.3 971.7,341.7 977.5,337.5 980,339.2 980.8,345.8 985,346.7 986.7,340 985.8,334.2 991.7,330 994.2,325 996.7,320.8 1006.7,324.2 1016.7,328.3 1026.7,332.5 1030.8,340 1030,348.3 1028.3,356.7 1024.2,363.3 1018.3,366.7 1015.8,371.7 1019.2,376.7 1024.2,374.2 1030,367.5 1036.7,365 1042.5,366.7 1045,373.3 1047.5,383.3 1048.3,393.3 1046.7,400 1044.2,404.2 1040,402.5 1037.5,408.3 1033.3,415 1030,420.8 1026.7,425.8 1028.3,427.5 1036.7,432.5 1046.7,434.2 1058.3,431.7 1070,425.8 1080,421.7 1090,419.2 1103.3,414.2 1111.7,409.2 1120,403.3 1122.5,399.2 1119.2,394.2 1120,386.7 1128.3,383.3 1141.7,383.3 1150.8,386.7 1160,385 1168.3,382.5 1175,378.3 1178.3,373.3 1176.7,366.7 1180,361.7 1186.7,356.7 1195,348.3 1205.8,340 1277.5,340 1280,333.8 1287.5,332.5 1293.8,327.5 1298.8,320 1303.8,315 1303.8,307.5 1308.8,300 1310,292.5 1316.2,285 1321.2,278.8 1326.2,275 1331.2,276.2 1331.2,281.2 1336.2,280 1346.2,277.5 1352.5,281.2 1358.8,287.5 1358.8,320 1365,325 1363.8,332.5 1370,337.5 1373.8,342.5 1374.3,343.7 1370.5,348.2 1364.4,351.3 1356.9,354.3 1350.8,357.3 1344.8,355.8 1338.7,358.8 1334.2,352.8 1331.1,357.3 1328.9,363.4 1323.6,367.2 1317.5,370.9 1311.5,374 1305.4,374.7 1302.4,380 1297.8,386.1 1294.8,392.1 1292.5,396.7 1291,397 1295,399 1296,404 1292,408 1289,411 1294,414 1297,418 1299,423 1300,427 1304,428 1310,428.5 1312.2,425 1311,420 1307.5,417.5 1305,417.5 1304.5,419.5 1308.5,421.5 1309,425 1306,426 1302,428 1300,430 1296,432 1292,430 1289,433 1286,434 1282,430 1280,435 1274,435.5 1268,436.5 1260,437.5 1250,439 1240,442 1231,444 1230,446 1226,451 1220,457 1219,460 1226,461 1227.5,465 1226.5,473 1224,479 1222,484 1227,470 1226,476 1223,482 1218,489 1212,495 1208.5,500 1205.5,500.5 1204,496 1199,492.5 1195.5,487 1193.5,481 1195.5,477 1190,478 1192.5,480.5 1194,486 1196,493 1199,500 1202,506 1203.5,512 1204,514.5 1202,522 1199,529 1194,535 1190,542 1186,549 1184.5,551.5 1183.5,553.5 1186,559 1186.2,562.5 1190,572.5 1193.8,585 1195,590 1190,600 1180,606.2 1172.5,612.5 1160,615 1150,620 1142.5,630 1135,633.8 1130,633.8 1122.5,640 1115,647.5 1110,655 1102.5,662.5 1108.8,660 1100,665 1090,670 1080,675 1075,685 1072.5,697.5 1070,710 1071.2,725 1075,740 1080,760 1087.5,780 1093.8,800 1098.8,815 1098.8,830 1096.2,845 1092.5,860 1082.5,863.8 1075,862.5 1070,852.5 1062.5,845 1057.5,832.5 1052.5,820 1047.5,810 1043.8,800 1042.5,790 1045,777.5 1040,762.5 1032.5,757.5 1025,745 1017.5,735 1010,735 1000,737.5 992.5,742.5 985,742.5 980.9,734.9 977.2,731.2 972.2,728.7 965.9,725.6 957.2,725 949.7,723.7 944.7,725.6 937.2,728.1 929.8,729.9 922.3,728.1 914.8,728.1 908.5,729.3 902.3,731.2 906.1,733.1 904.8,737.4 899.8,741.2 897.3,746.2 901.1,749.9 906.1,753.6 909.8,758 907.3,762.4 901.1,763.6 899.8,757.4 893.6,752.4 888.6,749.9 886.1,754.9 881.1,758.6 876.1,756.1 871.1,761.1 866.1,757.4 862.4,752.4 857.4,748.7 853.6,743 848.7,740.5 843.7,742.4 841.2,747.4 831.2,746.2 822.5,742.4 812.5,741.8 803.7,743 795,747.5 782.5,755 770,765 755,772.5 745,777.5 736.2,785 730,800 730,815 735,832.5 738.8,841.2 732.5,845 720,840 707.5,835 696.2,830 691.2,815 688.8,805 680,795 670,777.5 662.5,757.5 655,748.8 645,742.5 633.8,741.2 625,742.5 618.8,747.5 616.2,756.2 611.2,762.5 605,760 595,753.8 585,746.2 580,737.5 577.5,727.5 570,718.8 560,710 550,700 540,688.8 505,689.5 505,701.2 486.2,701.2 443.8,701.2 366.2,670 366.2,665.5 316.2,670 315,662.5 310,652.5 300,640 290,633.8 282.5,630 270,622.5 257.5,618.8 245,615 242.5,602.5 237.5,592.5 230,585 225,575 217.5,565 216.2,557.5 220,552.5 215,545 210,540 207.5,532.5 202.5,525 193.8,522.5 190,512.5 180,500 175,487.5 173.8,477.5 168.8,467.5 163.8,462.5 166.2,452.5 168.8,442.5 171.2,440 167.5,427.5 163.8,417.5 165,405 161.2,397.5 165,385 170.5,370 172,345 175,325 172.5,307.5 170.7,309.8 172.6,304.1 174.6,299.4 176.5,295.5 173.6,291.7 177.4,287.9 169.8,287 168.8,282.2 166,274.6 163.1,266.9 158.3,261.2 156.4,255.5 157.4,250.7 159.3,250.3 168.8,253.6 178.4,256 190.8,257.4 196.5,259.3 197,237.4 197.4,234.5Z" stroke-width="3.9"/>
<path d="M318.8,235.5 318.8,314.5 M172.5,307.5 183.8,307.5 191.2,310 196.2,316.2 198.8,322.5 207.5,326.2 222.5,323 232.5,325 245,321.2 260,318.8 275,316.2 295,315 318.8,314.5 M318.8,314.5 326.2,317.5 331.2,322.5 327.5,332.5 322.5,342.5 316.2,350 313.8,356.2 317.5,361.2 322.5,362.5 320,370 318.8,375 318.8,419.5 M165.9,419.8 444.8,419.8 M256.4,419.8 256.4,498.8 369.5,604.1 M381.9,419.8 381.9,575.2 M381.2,576.2 377.5,578.8 368.8,576.2 366.2,580 367.5,592.5 370,602.5 373.8,612.5 380,623.8 373.8,633.8 370,642.5 366.2,652.5 368.8,662.5 M368.8,657.5 371.2,661.2 366.2,665.5 M339.5,235.5 339.5,262.5 345,268.8 346.2,276.2 357.5,283.8 366.2,292.5 375,296.2 375,306.2 372.5,317.5 371.2,325 376.2,328.8 383.8,322.5 388.8,327.5 392.5,337.5 396.2,343.8 401.2,346.2 405,355 408.8,357.5 415,352.5 433.8,351.2 437.5,347.5 444.5,353.8 M444.8,340.8 444.8,446.1 486.9,446.1 M444.8,340.8 592.2,340.8 M592.2,235.5 592.2,446.1 M486.9,446.1 634.3,446.1 634.3,551.5 M486.9,446.1 486.9,700.8 M381.9,551.5 790.7,551.5 M614.3,551.5 614.3,564.6 613.2,683.1 537.5,683.1 537.5,689 M614.3,564.6 677.4,564.6 677.4,615.7 M678.8,615 685,620 692.5,618.8 696.2,625 707.5,626.2 717.5,628.8 722.5,633.8 730,632.5 738.8,637.5 745,632.5 752.5,637.5 760,636.2 770,632.5 778.8,631.2 785,635 792.5,637.5 801.2,638.8 M592.2,316.1 749.9,316.1 M736.2,235.5 737.5,245 738.8,257.5 743.8,270 746.2,285 747.5,297.5 751.2,310 750,316.2 745,323.8 750,327.5 752.5,332.5 753,380 750,382.5 750,390 752.5,395 750,400 750,404.5 M592.2,393.5 710,393.2 720,398.8 732.5,397.5 742.5,400 750,405 753.8,415 758.8,427.5 763.8,442.5 M763.8,440 766.2,450 770,456.2 775,467.5 780,473.8 786.2,477.5 781.2,483.8 786.2,488.8 791.2,497.5 791.2,564.2 795,590 795.5,635 801.2,638.8 802.5,655 803,690 M634.3,472.5 776.2,472.5 M752.2,380.3 862.3,380.3 M770,456.2 855,456.2 860,460 857.5,465 M841.2,296.5 840,312.5 835,315 830,318.8 M839.5,312.5 830,318.8 827.5,323.8 831.2,330 830,342.5 833.8,348.8 847.5,357.5 860,367.5 863.8,373.8 862.5,380 866.2,387.5 865,395 871.2,402.5 877.5,406.2 882.5,412.5 885,420 881.2,430 867.5,435 868.8,442.5 M868.8,440 868.8,447.5 860,455 857.5,462.5 858.8,472.5 865,482.5 871.2,490 873.8,498.8 883.8,502.5 885,510 880,517.5 887.5,525 896.2,531.2 901.2,540 903.8,550 907,556.2 900,564.2 893.8,577.5 890,587.5 885,595 885,602.5 878.8,610 875,617.5 868.8,626.2 865,635 862.5,645 865,655 865,663 M863.8,660 868.8,675 862.5,682.5 857.5,697.5 855,708.8 891.2,708.8 893.8,715 896.2,722.5 900,728.8 M803.8,660 803.8,682.5 807.5,692.5 812.5,705 812.5,717.5 810,732.5 807.5,743.8 M802.9,656.3 863.3,656.3 M791.2,564.2 886.2,564.2 887.5,571.2 881.2,577.5 893.8,577.5 M883.8,301.2 885,305 892.5,307.5 901.2,310 910,312.5 917.5,313.8 926.2,316.2 930,320 935,323.8 936.2,328.8 936.9,331.2 939,337.5 M874.5,406.6 934.3,406.6 M940,428.3 940,466.7 M940,440 940,490 938.8,497.5 941.2,505 936.2,513.8 931.2,520 930,528.8 M960,425 998,425.3 1026.7,426.2 M998,425.3 998,450 M998.8,440 998.8,502.5 M907,556.2 908.8,548.8 920,550 922.5,540 928.8,536.2 930,528.8 937.5,527.5 950,530 957.5,525 965,521.2 975,521.2 982.5,512.5 990,506.2 998.8,503.8 1000,497.5 1010,501.2 1020,506.2 1030,508.8 1038.8,506.2 1045,512.5 1050,513.8 1057.5,502.5 1062.5,498.8 1067.5,490 1080,483.8 1085,473.8 1087.5,465 1087.5,455 1088.8,440 M1087.5,419.8 1087.5,479.8 M1087.5,479.8 1187.1,479.8 M1048.8,513.8 1046.2,522.5 1052.5,535 1058.8,540.5 1065,545 1075,543.8 1087.5,540 1096.2,536.2 M1090,538.8 1095,532.5 1100,522.5 1107.5,512.5 1115,505 1122.5,497.5 1130,488.8 1135,486.2 M1058.8,540.5 1047.5,547.5 1037.5,556.2 1022.5,563 M900,564.2 928.8,564.2 928.8,561.2 1022.5,562.5 1065,563.2 1125,564.2 M1062.7,562.5 1184.7,563.3 M1065,563.8 1062.5,570 1050,576.2 1040,580 1030,586.2 1022.5,590 1012.5,596.2 1007.5,604.2 M885,603.8 1007.5,604.2 1035,603.8 M926.2,604.2 928.8,607 925,663 M924.2,660 921.2,727.5 M980,605 986.2,640 990,663 M990,660 993.8,675 991.2,690 992.5,709.2 995,716.2 1055,721.2 1056.2,726.2 1060,716.2 1070,713.8 M992.5,709.2 938.8,709.2 937.5,720 936.2,727.5 M1035,603.8 1028.8,611.2 1036.2,620 1045,632.5 1055,645 1065,662.5 M1065,660 1073.8,672.5 1080,677.5 M1035,603.8 1047.5,598.8 1077.5,600 1082.5,610 1107.5,610 1125,625 M1107.5,610 1130,632.5 M1110,480.8 1110,493 1118,487 1125,483 1130,484 1135,486 1140,490 1144,495 1147,494 1145.5,487 1144,483 1147,488 1152,493 1156,497 1163,500 1161,505 1158,509 1155.5,513 1157,516.5 1162,514.5 1168,518 1174,522 1178,528 M1188.5,480 1188.5,514.5 1203.8,514.5 M1104.2,415 1104.2,419.2 1198.3,419.2 M1198,419 1202,424 1203,430 1208,434.5 1206,440 1202,446 1203.5,451 1200,454 1202,460 1211,468.5 1205,472 1200,477 1192,478 1190,482 1194,487 1200,490 M1208,435 1230,446 M1241,385 1241,395 1238,418 1235,428 1234,443 1231,444.5 M1238,418 1281,419 1283,424 1286,428 1288,431 M1272,419 1272,435.5 M1241,399.5 1283,400 1286,397.5 1291,396.5 M1238.8,340.5 1238.8,370 1237.5,380 1241.2,385 1241.2,400 1239.5,410 M1277.5,340 1275,352.5 1267.5,360 1263.8,375 1258.8,390 1256.2,399.5 M1287.5,332.5 1291.2,395 1294.5,398.8"/>
</g>
<path d="M197.4,234.5 202.2,238.3 206,242.2 207,248.8 208.9,253.6 211.7,260.3 210.8,265 207.9,269.8 209.8,276.5 207.9,282.2 202.2,286 196.5,288.9 191.7,286 189.8,279.3 192.7,272.7 194.6,266 198.4,263.1 196.5,260.3 198.4,256.5 199.3,251.7 196.5,251.7 191.7,250.7 189.3,246.9 190.8,244.1 194.6,242.2 198.4,241.2 197,237.4Z" fill="#000"/><path d="M201.2,244.1 203.2,245 201.2,247.4 199.8,246.4Z" fill="#b3b3b3"/><path d="M169.8,287 177.4,287.9 173.6,291.7 176.5,295.5" fill="none" stroke="#000" stroke-width="4" stroke-linejoin="round" stroke-linecap="round"/><path d="M204.2,520 211.7,521.7 210.8,525.8 208.3,528.3 210.8,535 215.8,539.2 213.3,541.7 207.5,539.2 204.2,531.7 203.3,525Z" fill="#000"/><path d="M1188.5,480 1183,485 1178,489 1172,491.5 1171,496 1171.5,503 1170.5,509 1169.5,513 1174,517 1177,522 1178,528 1177.5,534 1179,540 1180,546 1183,553" fill="none" stroke="#000" stroke-width="3.8" stroke-linejoin="round" stroke-linecap="round"/><path d="M1188.5,480 1185,485 1182,490 1180,496 1181,502 1182,510 1180,514 1184,517 1187,524 1190,526 1194,524" fill="none" stroke="#000" stroke-width="3.8" stroke-linejoin="round" stroke-linecap="round"/><path d="M1176,495 1177,503 1178,510 1180,514" fill="none" stroke="#000" stroke-width="4" stroke-linejoin="round" stroke-linecap="round"/><path d="M1193,527 1188,534 1185,540 1184,548" fill="none" stroke="#000" stroke-width="4" stroke-linejoin="round" stroke-linecap="round"/><path d="M1165,527 1172,534 1177,540" fill="none" stroke="#000" stroke-width="3.6" stroke-linejoin="round" stroke-linecap="round"/><path d="M1168,540.5 1174,546 1179,550" fill="none" stroke="#000" stroke-width="3.6" stroke-linejoin="round" stroke-linecap="round"/><path d="M1164,546 1170,550 1174,555 1180,555" fill="none" stroke="#000" stroke-width="4.6" stroke-linejoin="round" stroke-linecap="round"/><path d="M1167,569 1169,580 1174,578 1178,573 1183,571 1185,575 1182,580 1184,584 1182,587" fill="none" stroke="#000" stroke-width="5" stroke-linejoin="round" stroke-linecap="round"/><path d="M1162,592 1168,594 1172,590 1176,596 1172,600 1168,601 1162,601 1166,605 1172,606 1176,605 1174,610" fill="none" stroke="#000" stroke-width="5.5" stroke-linejoin="round" stroke-linecap="round"/><path d="M1153,611 1156,614 1160,614.5" fill="none" stroke="#000" stroke-width="4.5" stroke-linejoin="round" stroke-linecap="round"/><path d="M1226,455 1232,451 1240,448 1250,445 1258,442 1263,442 1256,446 1263,444.5 1271,443.5 1270,445.3 1260,449.5 1250,453 1242,455.5 1234,455.5 1229,457.5Z" fill="#b3b3b3" stroke="#000" stroke-width="4.2" stroke-linejoin="round"/><path d="M1230,447 1240,445 1250,442 1259,439.5" fill="none" stroke="#000" stroke-width="3" stroke-linejoin="round" stroke-linecap="round"/><path d="M1292,436 1296,434.5 1301.5,435 1301,438 1296,439.5 1292.5,438.5Z" fill="#000"/><path d="M1304.5,437 1309,435.5 1312.5,437.5 1311.5,440.5 1307,441.2 1304.5,439.5Z" fill="#000"/><path d="M1275.5,440.5 1278.5,440 1279,443 1276,443.5Z" fill="#b3b3b3"/><path d="M1038.3,789.2 1045,787.5 1050,790.8 1049.2,796.7 1044.2,799.2 1039.2,795.8Z" fill="#000"/><path d="M1050,815 1055.8,814.2 1057.5,819.2 1053.3,822.5 1050,820Z" fill="#000"/><path d="M782.1,743.1 789.6,740 786.5,746.2 783.1,749.3" fill="none" stroke="#000" stroke-width="5" stroke-linejoin="round" stroke-linecap="round"/><path d="M747.8,771.2 752.2,769.9 757.8,769.3 752.2,773.6 745.3,777.4 743.7,780.1" fill="none" stroke="#000" stroke-width="5.5" stroke-linejoin="round" stroke-linecap="round"/><path d="M736,784.9 739.7,783.6 737.2,789.9" fill="none" stroke="#000" stroke-width="5" stroke-linejoin="round" stroke-linecap="round"/><path d="M728.7,792.4 733.5,793.6 735.7,790.5 732.5,797.4" fill="none" stroke="#000" stroke-width="5" stroke-linejoin="round" stroke-linecap="round"/><path d="M724.5,803 727.2,807.3 725.7,809.8 730.7,807.3" fill="none" stroke="#000" stroke-width="5" stroke-linejoin="round" stroke-linecap="round"/><path d="M879.9,731.2 883.6,726.2 887.3,726.8 892.3,729.9 889.8,733.7 884.8,734.3 881.1,733.7Z" fill="#3c7c42" stroke="#000" stroke-width="3.6" stroke-linejoin="round"/><path d="M892.3,729.9 896.1,736.2 903.6,733.7" fill="none" stroke="#000" stroke-width="5" stroke-linejoin="round" stroke-linecap="round"/><path d="M929.8,715 931,721.2 930.4,729.3" fill="none" stroke="#000" stroke-width="4.5" stroke-linejoin="round" stroke-linecap="round"/><path d="M932.9,718.7 934.1,726.8" fill="none" stroke="#000" stroke-width="4" stroke-linejoin="round" stroke-linecap="round"/><path d="M912.3,736.2 914.2,734.9 914.8,739.9 906.1,751.2 904.8,749.9 911,741.2Z" fill="#3c7c42"/><path d="M980,339.2 983.3,336.7 986.7,339.2 986.7,345.8 983.3,348.3 980.3,346.3Z" fill="#000"/>
<g font-family="'Liberation Sans', Arial, sans-serif" fill="#000" text-anchor="middle">
<text x="767.4" y="57" font-size="33.56" font-weight="bold">Spodoptera littoralis: Earliest date of OW gen. adult activity</text>
<text x="767.4" y="97.2" font-size="33.56" font-weight="bold">(flight/egg laying) w/ climate stress exclusion 2026</text>
<text x="767" y="147.5" font-size="27.1">Maps and modeling 01/05/2026 by Oregon State University IPPC USPEST.ORG and</text>
<text x="767" y="181" font-size="27.1">USDA-APHIS-PPQ; climate data from OSU PRISM Climate Group</text>
</g>
<g font-family="'Liberation Sans', Arial, sans-serif" fill="#000" font-size="26" font-weight="bold">
<text x="1417" y="309.0">Earliest date</text>
<text x="1417" y="337.0">of OW gen.</text>
<text x="1417" y="365.0">adult activity</text>
<text x="1417" y="393.0">(flight/egg</text>
<text x="1417" y="421.0">laying)</text>
</g>
<g font-family="'DejaVu Sans', Verdana, sans-serif" fill="#000" font-size="21.6">
<rect x="1417.1" y="435.00" width="25.8" height="25.75" fill="#4d4d4d"/>
<text x="1453.9" y="455.3">excl.-sev.</text>
<rect x="1417.1" y="460.45" width="25.8" height="25.75" fill="#b3b3b3"/>
<text x="1453.9" y="480.8">excl.-mod.</text>
<rect x="1417.1" y="485.90" width="25.8" height="25.75" fill="#aaf7df"/>
<text x="1453.9" y="506.2">Feb-01</text>
<rect x="1417.1" y="511.35" width="25.8" height="25.75" fill="#8de4d0"/>
<text x="1453.9" y="531.7">Feb-08</text>
<rect x="1417.1" y="536.80" width="25.8" height="25.75" fill="#70d4c4"/>
<text x="1453.9" y="557.1">Feb-15</text>
<rect x="1417.1" y="562.25" width="25.8" height="25.75" fill="#52c2b6"/>
<text x="1453.9" y="582.6">Feb-22</text>
<rect x="1417.1" y="587.70" width="25.8" height="25.75" fill="#b9fdc2"/>
<text x="1453.9" y="608.0">Mar-01</text>
<rect x="1417.1" y="613.15" width="25.8" height="25.75" fill="#8ed298"/>
<text x="1453.9" y="633.5">Mar-08</text>
<rect x="1417.1" y="638.60" width="25.8" height="25.75" fill="#65a76d"/>
<text x="1453.9" y="658.9">Mar-15</text>
<rect x="1417.1" y="664.05" width="25.8" height="25.75" fill="#3c7c42"/>
<text x="1453.9" y="684.4">Mar-22</text>
<rect x="1417.1" y="689.50" width="25.8" height="25.75" fill="#145217"/>
<text x="1453.9" y="709.8">Mar-29</text>
<rect x="1417.1" y="714.95" width="25.8" height="25.75" fill="#ccff00"/>
<text x="1453.9" y="735.3">Apr-05</text>
<rect x="1417.1" y="740.40" width="25.8" height="25.75" fill="#a6ee05"/>
<text x="1453.9" y="760.7">Apr-12</text>
<rect x="1417.1" y="765.85" width="25.8" height="25.75" fill="#7ede0a"/>
<text x="1453.9" y="786.2">Apr-19</text>
<rect x="1417.1" y="791.30" width="25.8" height="25.75" fill="#56ce0f"/>
<text x="1453.9" y="811.6">Apr-26</text>
<rect x="1577.1" y="435.00" width="25.8" height="25.75" fill="#ffff00"/>
<text x="1613.9" y="455.3">May-03</text>
<rect x="1577.1" y="460.45" width="25.8" height="25.75" fill="#dfd800"/>
<text x="1613.9" y="480.8">May-10</text>
<rect x="1577.1" y="485.90" width="25.8" height="25.75" fill="#bfb000"/>
<text x="1613.9" y="506.2">May-17</text>
<rect x="1577.1" y="511.35" width="25.8" height="25.75" fill="#9f8808"/>
<text x="1613.9" y="531.7">May-24</text>
<rect x="1577.1" y="536.80" width="25.8" height="25.75" fill="#7f6010"/>
<text x="1613.9" y="557.1">May-31</text>
<rect x="1577.1" y="562.25" width="25.8" height="25.75" fill="#ffd88f"/>
<text x="1613.9" y="582.6">Jun-07</text>
<rect x="1577.1" y="587.70" width="25.8" height="25.75" fill="#ffc070"/>
<text x="1613.9" y="608.0">Jun-14</text>
<rect x="1577.1" y="613.15" width="25.8" height="25.75" fill="#ffab53"/>
<text x="1613.9" y="633.5">Jun-21</text>
<rect x="1577.1" y="638.60" width="25.8" height="25.75" fill="#ff9535"/>
<text x="1613.9" y="658.9">Jun-28</text>
<rect x="1577.1" y="664.05" width="25.8" height="25.75" fill="#f7cccc"/>
<text x="1613.9" y="684.4">Jul-05</text>
<rect x="1577.1" y="689.50" width="25.8" height="25.75" fill="#f79999"/>
<text x="1613.9" y="709.8">Jul-12</text>
<rect x="1577.1" y="714.95" width="25.8" height="25.75" fill="#f76666"/>
<text x="1613.9" y="735.3">Jul-19</text>
<rect x="1577.1" y="740.40" width="25.8" height="25.75" fill="#f73333"/>
<text x="1613.9" y="760.7">Jul-26</text>
<rect x="1577.1" y="765.85" width="25.8" height="25.75" fill="#e8b8ae"/>
<text x="1613.9" y="786.2">Aug-02</text>
<rect x="1577.1" y="791.30" width="25.8" height="25.75" fill="#cc9088"/>
<text x="1613.9" y="811.6">Aug-09</text>
<rect x="1703.7" y="435.00" width="25.8" height="25.75" fill="#b46a5c"/>
<text x="1739.8" y="455.3">Aug-16</text>
<rect x="1703.7" y="460.45" width="25.8" height="25.75" fill="#9c4532"/>
<text x="1739.8" y="480.8">Aug-23</text>
<rect x="1703.7" y="485.90" width="25.8" height="25.75" fill="#84200c"/>
<text x="1739.8" y="506.2">Aug-30</text>
<rect x="1703.7" y="511.35" width="25.8" height="25.75" fill="#ffb0dc"/>
<text x="1739.8" y="531.7">Sep-06</text>
<rect x="1703.7" y="536.80" width="25.8" height="25.75" fill="#ff84e4"/>
<text x="1739.8" y="557.1">Sep-13</text>
<rect x="1703.7" y="562.25" width="25.8" height="25.75" fill="#ff58ec"/>
<text x="1739.8" y="582.6">Sep-20</text>
<rect x="1703.7" y="587.70" width="25.8" height="25.75" fill="#ff2cf4"/>
<text x="1739.8" y="608.0">Sep-27</text>
<rect x="1703.7" y="613.15" width="25.8" height="25.75" fill="#e2bfe6"/>
<text x="1739.8" y="633.5">Oct-05</text>
<rect x="1703.7" y="638.60" width="25.8" height="25.75" fill="#ca98d6"/>
<text x="1739.8" y="658.9">Oct-11</text>
<rect x="1703.7" y="664.05" width="25.8" height="25.75" fill="#b470c8"/>
<text x="1739.8" y="684.4">Oct-19</text>
<rect x="1703.7" y="689.50" width="25.8" height="25.75" fill="#a04ab8"/>
<text x="1739.8" y="709.8">Oct-25</text>
<rect x="1703.7" y="714.95" width="25.8" height="25.75" fill="#b4ecff"/>
<text x="1739.8" y="735.3">Nov-01</text>
<rect x="1703.7" y="740.40" width="25.8" height="25.75" fill="#88d4f0"/>
<text x="1739.8" y="760.7">Nov-11</text>
<rect x="1703.7" y="765.85" width="25.8" height="25.75" fill="#58bce8"/>
<text x="1739.8" y="786.2">Nov-16</text>
<rect x="1703.7" y="791.30" width="25.8" height="25.75" fill="#a0c4e8"/>
<text x="1739.8" y="811.6">Dec-04</text>
<rect x="1829.0" y="435.00" width="24.7" height="25.75" fill="#7890ec"/>
<text x="1865.3" y="455.3">Dec-09</text>
<rect x="1829.0" y="460.45" width="24.7" height="25.75" fill="#5060f0"/>
<text x="1865.3" y="480.8">Dec-16</text>
<rect x="1829.0" y="485.90" width="24.7" height="25.75" fill="#2c2cf4"/>
<text x="1865.3" y="506.2">Dec-22</text>
</g>
</svg>
</body></html>
